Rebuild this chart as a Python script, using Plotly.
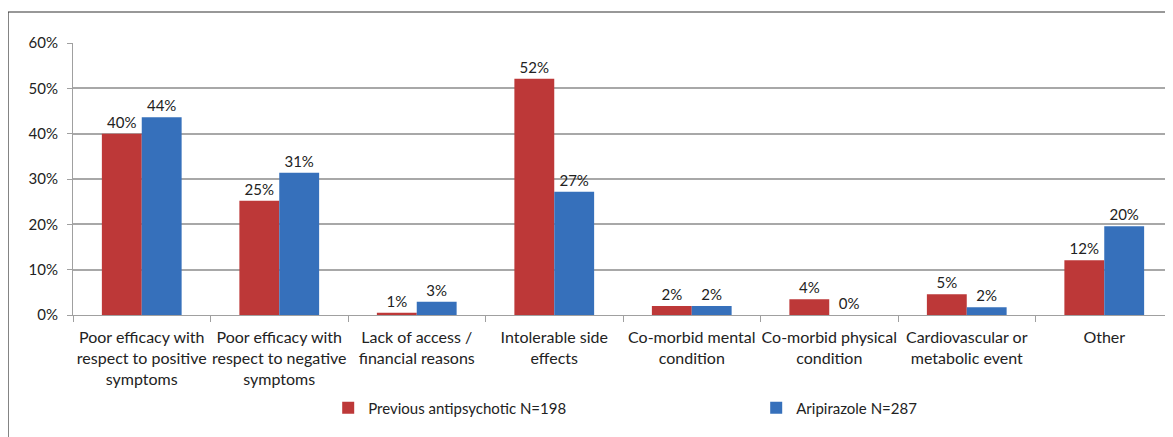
import plotly.graph_objects as go

categories = [
    "Poor efficacy with<br>respect to positive<br>symptoms",
    "Poor efficacy with<br>respect to negative<br>symptoms",
    "Lack of access /<br>financial reasons",
    "Intolerable side<br>effects",
    "Co-morbid mental<br>condition",
    "Co-morbid physical<br>condition",
    "Cardiovascular or<br>metabolic event",
    "Other",
]
previous_values = [40.0, 25.2, 0.5, 52.1, 2.0, 3.5, 4.6, 12.1]
previous_labels = ["40%", "25%", "1%", "52%", "2%", "4%", "5%", "12%"]
aripiprazole_values = [43.6, 31.4, 2.9, 27.2, 2.0, 0.0, 1.7, 19.6]
aripiprazole_labels = ["44%", "31%", "3%", "27%", "2%", "0%", "2%", "20%"]
y_ticks = [0, 10, 20, 30, 40, 50, 60]
y_tick_labels = ["0%", "10%", "20%", "30%", "40%", "50%", "60%"]

FONT = "Lato, 'Open Sans', sans-serif"

fig = go.Figure()
fig.add_trace(go.Bar(
    x=categories, y=previous_values, name="Previous antipsychotic N=198",
    marker=dict(color="#bd3838", line=dict(width=0)),
    text=previous_labels, textposition="outside",
    textfont=dict(size=15, color="#222"), cliponaxis=False,
))
fig.add_trace(go.Bar(
    x=categories, y=aripiprazole_values, name="Aripirazole N=287",
    marker=dict(color="#3670bb", line=dict(width=0)),
    text=aripiprazole_labels, textposition="outside",
    textfont=dict(size=15, color="#222"), cliponaxis=False,
))

fig.update_layout(
    width=1173, height=437,
    margin=dict(l=65, r=8, t=35, b=130, autoexpand=False),
    paper_bgcolor="white", plot_bgcolor="white",
    font=dict(family=FONT, size=15, color="#222"),
    barmode="group", bargap=0.42, bargroupgap=0,
    showlegend=True,
    legend=dict(orientation="h", x=0.232, xanchor="left", y=-0.342, yanchor="middle",
                entrywidth=383, entrywidthmode="pixels",
                font=dict(size=15, family=FONT), itemwidth=30),
    xaxis=dict(
        automargin=False, tickangle=0, ticklabelstandoff=8,
        showgrid=False, showline=True, linecolor="#a0a0a0", linewidth=1,
        ticks="outside", tickson="boundaries", ticklen=6, tickcolor="#a0a0a0",
        tickfont=dict(size=16, family=FONT, color="#222"),
    ),
    yaxis=dict(
        automargin=False, ticklabelstandoff=6,
        range=[0, 60], tickvals=y_ticks, ticktext=y_tick_labels,
        showgrid=True, gridcolor="#a8a8a8", gridwidth=1.5,
        showline=True, linecolor="#a0a0a0", linewidth=1,
        ticks="outside", ticklen=5, tickcolor="#a0a0a0",
        tickfont=dict(size=15, family=FONT, color="#222"),
        zeroline=False,
    ),
    shapes=[dict(type="rect", xref="paper", yref="paper",
                 x0=(0 - 65) / 1100, x1=1.05, y0=-0.6, y1=1 + 31 / 272,
                 line=dict(color="#333", width=1.2), layer="above")],
)

fig.write_html("out.html")
